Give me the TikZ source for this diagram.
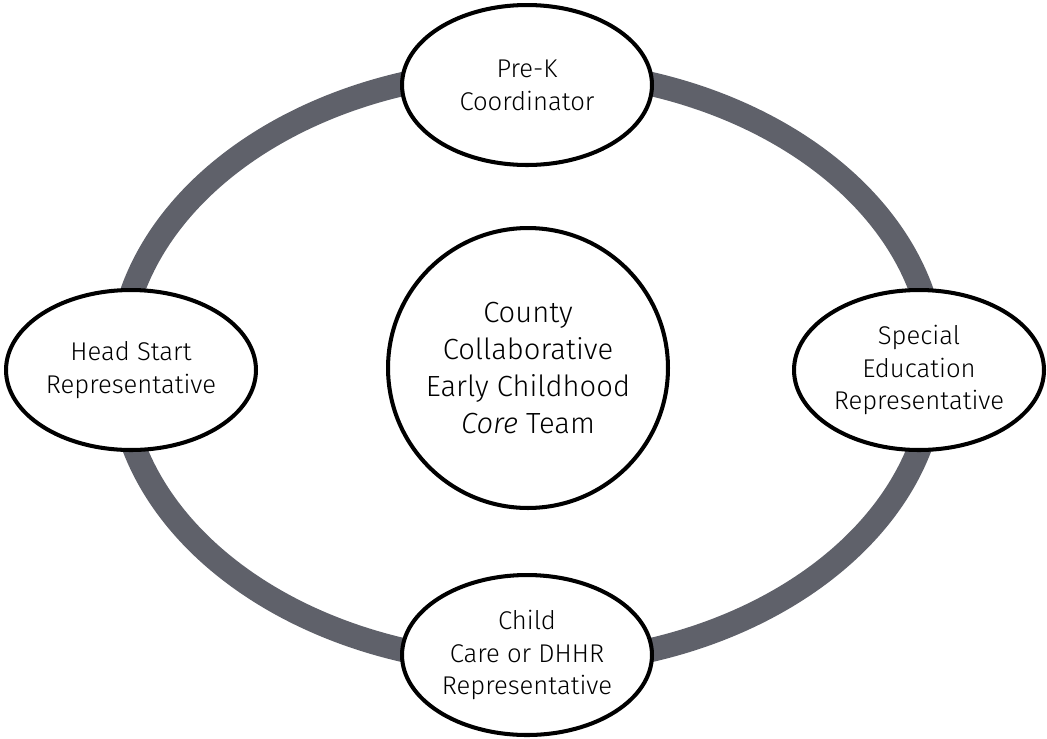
\documentclass[tikz,border=0pt]{standalone}
\usepackage{fontspec}
\setmainfont{Fira Sans Light}[ItalicFont={Fira Sans Light Italic}]
\usetikzlibrary{shapes.geometric}

\definecolor{anneau}{RGB}{95,97,106}

\tikzset{
  membre/.style={ellipse, draw=black, line width=2.3pt, fill=white,
    minimum width=5cm, minimum height=3.2cm, inner sep=0pt, align=center,
    font=\fontsize{14.6}{18.7}\selectfont},
  noyau/.style={circle, draw=black, line width=2.3pt, fill=white,
    minimum size=5.6cm, inner sep=0pt, align=center,
    font=\fontsize{16.6}{21}\selectfont}
}

\begin{document}
\begin{tikzpicture}[x=0.02cm, y=-0.02cm]

  % Cadre (pixels de l'original)
  \useasboundingbox (0,0) rectangle (1047,738);

  % Anneau gris
  \draw[anneau, line width=0.48cm] (527,367) ellipse [x radius=408, y radius=297];

  % Noyau central
  \node[noyau] (core) at (528,368) {County\\Collaborative\\Early Childhood\\\textit{Core} Team};

  % Membres autour
  \node[membre] (prek)  at (527,85)  {Pre-K\\Coordinator};
  \node[membre] (head)  at (131,370) {Head Start\\Representative};
  \node[membre] (sped)  at (919,370) {Special\\Education\\Representative};
  \node[membre] (child) at (527,655) {Child\\Care or DHHR\\Representative};

\end{tikzpicture}
\end{document}
